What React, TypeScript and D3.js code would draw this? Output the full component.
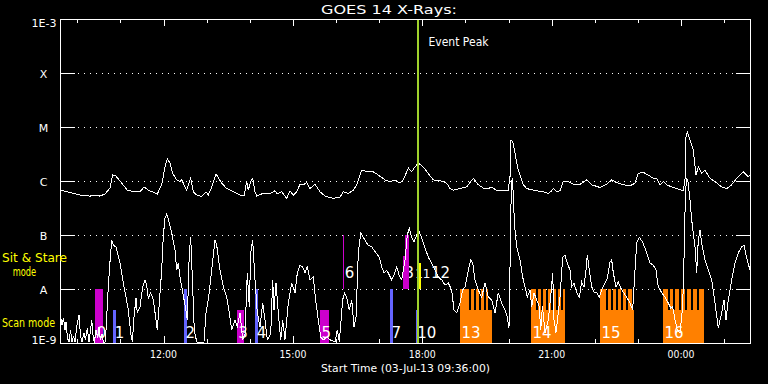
import React from "react";
import * as d3 from "d3";

// ---- data (time = hours since start 03-Jul-13 09:36, value = log10 flux W/m^2) ----
const TITLE = "GOES 14 X-Rays:";
const START_LABEL = "Start Time (03-Jul-13 09:36:00)";

const longT = [0.016,0.464,0.696,0.812,0.928,1.043,1.159,1.222,1.299,1.431,1.561,1.739,1.855,1.948,2.048,2.256,2.358,2.435,2.488,2.551,2.613,2.706,2.783,2.822,2.938,3.031,3.091,3.170,3.286,3.386,3.439,3.518,3.617,3.750,3.866,4.019,4.174,4.267,4.329,4.366,4.422,4.468,4.522,4.561,4.677,4.870,4.986,5.039,5.141,5.257,5.333,5.410,5.489,5.565,5.642,5.720,5.797,5.913,6.029,6.145,6.337,6.493,6.570,6.685,6.801,6.880,6.996,7.149,7.265,7.381,7.536,7.652,7.768,7.884,7.961,8.077,8.155,8.209,8.308,8.424,8.540,8.656,8.772,8.888,8.967,9.043,9.120,9.275,9.431,9.584,9.700,9.855,10.010,10.126,10.395,10.435,10.458,10.497,10.551,10.627,10.743,10.822,10.975,11.207,11.323,11.402,11.439,11.518,11.594,11.671,11.787,11.942,12.058,12.213,12.329,12.522,12.677,12.793,12.909,13.062,13.217,13.333,13.410,13.526,13.642,13.758,13.837,13.913,13.990,14.068,14.185,14.337,14.453,14.493,14.516,14.546,14.609,14.685,14.748,14.801,14.880,14.957,15.072,15.188,15.344,15.459,15.575,15.691,15.844,15.884,15.960,16.0];
const longL = [-6.17,-6.26,-6.28,-6.26,-6.28,-6.24,-6.13,-5.89,-5.91,-6.04,-6.17,-6.20,-6.20,-6.11,-6.17,-6.24,-6.07,-5.74,-5.59,-5.67,-5.86,-5.98,-6.01,-5.98,-6.17,-5.95,-6.20,-6.26,-6.29,-6.20,-6.26,-6.11,-5.87,-6.04,-6.14,-6.20,-6.26,-6.28,-6.01,-6.17,-6.01,-5.95,-6.20,-6.28,-6.24,-6.23,-6.18,-6.24,-6.20,-6.32,-6.18,-6.26,-6.20,-6.06,-6.07,-6.03,-6.14,-6.06,-6.20,-6.28,-6.32,-6.30,-6.20,-6.23,-6.17,-6.07,-5.80,-5.83,-5.83,-5.89,-5.98,-6.01,-5.98,-6.04,-5.98,-5.76,-5.83,-5.76,-5.67,-5.74,-5.86,-5.98,-5.99,-6.01,-6.04,-6.14,-6.17,-6.14,-6.11,-5.95,-6.07,-6.15,-6.12,-6.17,-6.17,-5.92,-5.24,-5.27,-5.49,-5.80,-6.07,-6.14,-6.17,-6.20,-6.23,-6.18,-6.14,-6.20,-6.18,-6.01,-6.01,-6.07,-6.06,-5.98,-6.07,-6.12,-6.06,-5.98,-6.03,-6.07,-6.09,-6.04,-5.86,-5.84,-5.89,-5.95,-5.95,-6.07,-6.01,-6.07,-6.11,-6.15,-6.18,-5.98,-5.18,-5.09,-5.24,-5.43,-5.89,-5.74,-5.86,-5.80,-5.95,-6.01,-6.11,-6.14,-6.07,-5.95,-5.83,-5.86,-5.92,-5.89];

const shortT = [0.016,0.046,0.081,0.116,0.139,0.174,0.209,0.243,0.278,0.313,0.348,0.394,0.441,0.475,0.510,0.557,0.591,0.633,0.672,0.707,0.735,0.765,0.795,0.835,0.870,0.904,0.939,0.974,1.009,1.043,1.067,1.120,1.159,1.199,1.236,1.299,1.345,1.391,1.468,1.530,1.584,1.639,1.677,1.716,1.762,1.792,1.855,1.918,1.971,2.010,2.048,2.103,2.163,2.226,2.256,2.303,2.358,2.395,2.435,2.474,2.511,2.551,2.590,2.667,2.706,2.743,2.783,2.845,2.906,2.952,2.998,3.031,3.077,3.114,3.170,3.246,3.339,3.386,3.439,3.518,3.594,3.634,3.710,3.787,3.866,3.926,3.981,4.058,4.111,4.174,4.236,4.290,4.343,4.390,4.422,4.468,4.522,4.575,4.638,4.700,4.754,4.807,4.886,4.932,4.962,5.009,5.062,5.118,5.164,5.217,5.294,5.373,5.449,5.503,5.565,5.628,5.681,5.734,5.797,5.874,5.936,5.990,6.045,6.105,6.198,6.261,6.377,6.430,6.477,6.555,6.597,6.648,6.708,6.764,6.817,6.864,6.917,6.973,7.033,7.096,7.149,7.228,7.327,7.404,7.460,7.513,7.576,7.636,7.692,7.745,7.808,7.861,7.924,8.000,8.053,8.100,8.155,8.209,8.271,8.332,8.387,8.464,8.540,8.619,8.696,8.772,8.851,8.928,9.004,9.083,9.136,9.199,9.275,9.338,9.391,9.468,9.523,9.570,9.623,9.700,9.778,9.855,9.932,10.010,10.087,10.163,10.242,10.319,10.372,10.411,10.442,10.465,10.488,10.511,10.539,10.590,10.667,10.729,10.783,10.836,10.899,10.938,10.991,11.054,11.114,11.147,11.188,11.246,11.323,11.378,11.425,11.455,11.501,11.555,11.594,11.656,11.710,11.763,11.826,11.865,11.919,11.981,12.042,12.097,12.151,12.197,12.227,12.274,12.329,12.382,12.445,12.505,12.561,12.638,12.691,12.754,12.793,12.830,12.893,12.946,13.002,13.062,13.141,13.217,13.280,13.333,13.372,13.433,13.511,13.604,13.681,13.757,13.820,13.873,13.952,14.029,14.105,14.161,14.207,14.261,14.314,14.377,14.439,14.469,14.499,14.527,14.562,14.609,14.648,14.725,14.764,14.801,14.841,14.880,14.957,15.033,15.112,15.188,15.265,15.344,15.397,15.443,15.497,15.575,15.652,15.729,15.807,15.861,15.923,16.000];
const shortL = [-8.52,-8.67,-8.54,-8.76,-8.61,-8.91,-8.98,-8.76,-8.98,-8.87,-8.98,-8.67,-8.48,-8.87,-8.98,-8.81,-8.94,-8.72,-8.98,-8.76,-8.57,-8.85,-9.00,-8.76,-8.91,-8.70,-8.94,-8.83,-9.00,-9.00,-8.76,-7.96,-7.50,-7.09,-7.19,-7.22,-7.37,-7.52,-7.89,-8.15,-8.39,-8.81,-8.98,-8.52,-8.17,-8.44,-8.33,-7.96,-7.83,-7.93,-8.17,-8.07,-8.20,-8.57,-8.76,-8.26,-7.65,-7.02,-6.69,-6.61,-6.70,-6.83,-6.96,-7.28,-7.65,-7.52,-7.78,-8.06,-8.33,-8.57,-7.33,-7.04,-7.96,-8.76,-8.98,-9.00,-8.98,-8.44,-8.20,-7.65,-7.09,-7.19,-7.65,-7.96,-8.15,-8.44,-8.76,-8.57,-8.70,-8.44,-8.94,-8.83,-7.70,-8.33,-7.33,-7.09,-7.83,-8.44,-8.70,-8.26,-8.57,-8.94,-8.83,-7.83,-8.39,-7.89,-8.44,-8.94,-8.57,-8.94,-8.26,-7.89,-8.07,-7.70,-7.56,-7.59,-7.70,-7.59,-7.83,-7.78,-8.26,-8.57,-8.89,-8.94,-8.89,-8.94,-8.98,-8.76,-8.98,-8.20,-8.07,-8.15,-8.39,-8.20,-8.70,-8.52,-7.33,-6.96,-7.04,-7.13,-7.19,-7.22,-7.33,-7.41,-7.59,-7.70,-7.65,-7.74,-7.83,-7.74,-7.59,-7.74,-7.83,-7.46,-7.00,-6.87,-7.04,-7.13,-7.00,-6.94,-7.06,-7.24,-7.41,-7.52,-7.65,-7.78,-7.83,-7.93,-7.89,-8.02,-8.39,-8.44,-8.26,-8.02,-7.96,-7.65,-7.46,-7.52,-7.83,-8.02,-8.15,-7.89,-8.15,-8.20,-8.44,-8.07,-8.26,-8.39,-8.52,-8.72,-7.28,-6.07,-5.94,-6.26,-6.81,-7.22,-7.46,-7.78,-7.96,-8.15,-8.02,-8.33,-8.07,-8.20,-8.33,-8.76,-8.31,-8.81,-8.57,-8.15,-7.70,-8.57,-8.81,-8.44,-8.15,-7.41,-7.37,-7.52,-7.65,-7.96,-7.89,-8.07,-8.15,-7.87,-7.96,-7.65,-7.37,-7.65,-7.96,-8.06,-8.07,-8.15,-8.02,-7.89,-7.80,-7.50,-7.46,-7.70,-7.96,-7.87,-7.98,-8.06,-8.15,-8.26,-8.39,-7.65,-7.15,-7.04,-7.13,-7.33,-7.52,-7.56,-7.65,-7.96,-8.07,-8.15,-8.26,-8.35,-8.33,-8.57,-8.76,-8.81,-8.33,-7.46,-6.35,-5.94,-6.02,-6.35,-6.72,-7.22,-7.70,-7.09,-6.91,-7.15,-7.46,-7.65,-7.83,-8.26,-8.72,-8.44,-8.20,-8.57,-8.20,-7.83,-7.52,-7.33,-7.22,-7.19,-7.43,-7.65];

// axis levels
const yLevels = [-9, -8, -7, -6, -5, -4, -3];
const yLabels = ["1E-9", "A", "B", "C", "M", "X", "1E-3"];
const majorHours = [2.4, 5.4, 8.4, 11.4, 14.4];
const majorLabels = ["12:00", "15:00", "18:00", "21:00", "00:00"];
const minorHours = [0.4, 1.4, 3.4, 4.4, 6.4, 7.4, 9.4, 10.4, 12.4, 13.4, 15.4];

// observations
const obsLabel = ["0","1","2","3","4","5","6","7","8","","10","11","12","13","14","15","16"];
const obsStart = [0.819,1.236,2.876,4.097,4.530,6.029,6.570,7.652,7.946,8.006,8.248,8.318,8.545,9.275,10.922,12.522,13.982];
const obsEnd   = [0.990,1.292,2.938,4.267,4.580,6.230,6.593,7.714,8.006,8.092,8.278,8.364,8.545,10.010,11.710,13.310,14.926];
const obsTop   = [-8,-8.39,-8,-8.39,-8,-8.39,-7,-8,-7.39,-7,-8.39,-7.52,-7.5,-8.39,-8.39,-8.39,-8.39];
const obsBase  = [-9,-9,-9,-9,-9,-9,-8,-9,-8,-8,-9,-8,-8,-9,-9,-9,-9];
const obsColor = ["#cc00cc","#6464ff","#6464ff","#cc00cc","#6464ff","#cc00cc","#cc00cc","#6464ff","#cc00cc","#cc00cc","#6464ff","#ffff00","#ffff00","#ff8000","#ff8000","#ff8000","#ff8000"];
// sit & stare exposures inside the orange scan blocks
const rasterStart = [9.275,9.523,9.639,9.762,9.878, 10.922,11.077,11.193,11.309,11.425,11.541,11.656, 12.522,12.700,12.816,12.932,13.048,13.164, 13.982,14.138,14.268,14.400,14.539,14.671,14.810];
const rasterEnd   = [9.484,9.600,9.723,9.839,9.932, 11.038,11.154,11.270,11.386,11.501,11.617,11.710, 12.661,12.777,12.893,13.009,13.124,13.257, 14.091,14.221,14.353,14.493,14.625,14.764,14.926];
const eventPeak = 8.294;

const FONT = "DejaVu Sans, sans-serif";

export default function App() {
  const x = d3.scaleLinear().domain([0, 16]).range([60, 750]);
  const y = d3.scaleLog().domain([1e-9, 1e-3]).range([343, 19]);
  const fy = (v: number) => y(Math.pow(10, Math.max(v, -9)));
  const line = d3.line<[number, number]>().x((d) => x(d[0])).y((d) => fy(d[1]));
  const longPts: [number, number][] = d3.range(Math.min(longT.length, longL.length)).map((i) => [longT[i], longL[i]]);
  const shortPts: [number, number][] = d3.range(Math.min(shortT.length, shortL.length)).map((i) => [shortT[i], shortL[i]]);

  const lower = obsLabel.map((_, i) => i).filter((i) => obsBase[i] === -9);
  const upper = obsLabel.map((_, i) => i).filter((i) => obsBase[i] !== -9);

  // label placement for the crowded sit & stare labels near the event
  const upperLabelX = (i: number) => {
    if (obsLabel[i] === "11") return x(obsStart[i]) - 3.5;
    if (obsLabel[i] === "12") return x(obsStart[i]) + 2.5;
    return x(obsStart[i]) + 1.5;
  };

  return (
    <svg width={768} height={384} style={{ position: "fixed", left: 0, top: 0, background: "#000" }}>
      <rect x={0} y={0} width={768} height={384} fill="#000" />
      <defs>
        <clipPath id="plot"><rect x={60} y={19} width={690} height={324} /></clipPath>
      </defs>
      {/* dotted grid */}
      {yLevels.slice(1, -1).map((v) => (
        <line key={"g" + v} x1={60} x2={750} y1={fy(v) + 0.5} y2={fy(v) + 0.5} stroke="#fff" strokeDasharray="1 5" shapeRendering="crispEdges" />
      ))}
      {/* decade ticks */}
      {yLevels.slice(1, -1).map((v) => (
        <g key={"t" + v} shapeRendering="crispEdges">
          <line x1={60} x2={75} y1={fy(v) + 0.5} y2={fy(v) + 0.5} stroke="#fff" />
          <line x1={736} x2={750} y1={fy(v) + 0.5} y2={fy(v) + 0.5} stroke="#fff" />
        </g>
      ))}
      {/* hour ticks */}
      {majorHours.map((h) => (
        <g key={"M" + h} shapeRendering="crispEdges">
          <line x1={Math.round(x(h)) + 0.5} x2={Math.round(x(h)) + 0.5} y1={19} y2={26} stroke="#fff" />
          <line x1={Math.round(x(h)) + 0.5} x2={Math.round(x(h)) + 0.5} y1={336} y2={343} stroke="#fff" />
        </g>
      ))}
      {minorHours.map((h) => (
        <g key={"m" + h} shapeRendering="crispEdges">
          <line x1={Math.round(x(h)) + 0.5} x2={Math.round(x(h)) + 0.5} y1={19} y2={23} stroke="#fff" />
          <line x1={Math.round(x(h)) + 0.5} x2={Math.round(x(h)) + 0.5} y1={339} y2={343} stroke="#fff" />
        </g>
      ))}
      {/* labels of sit & stare band (drawn under the bars) */}
      {upper.map((i) => (
        <text key={"ul" + i} x={upperLabelX(i)} y={fy(-8) - 11} fill="#fff" fontFamily={FONT}
          fontSize={obsLabel[i] === "11" ? 12 : 15}>{obsLabel[i]}</text>
      ))}
      {/* observation bars */}
      {obsLabel.map((_, i) => (
        <rect key={"b" + i} x={x(obsStart[i])} y={fy(obsTop[i])} width={Math.max(0, x(obsEnd[i]) - x(obsStart[i]))}
          height={fy(obsBase[i]) - fy(obsTop[i])} fill={obsColor[i]} shapeRendering="crispEdges" />
      ))}
      {rasterStart.map((s, i) => (
        <rect key={"r" + i} x={x(s)} y={fy(-8)} width={x(rasterEnd[i]) - x(s)} height={fy(-9) - fy(-8)} fill="#ff8000" shapeRendering="crispEdges" />
      ))}
      {lower.map((i) => (
        <text key={"ll" + i} x={x(obsStart[i]) + 1.5} y={fy(-9) - 5} fill="#fff" fontFamily={FONT} fontSize={15}>{obsLabel[i]}</text>
      ))}
      {/* curves */}
      <g clipPath="url(#plot)">
        <path d={line(longPts) || ""} fill="none" stroke="#fff" strokeWidth={1} shapeRendering="crispEdges" />
        <path d={line(shortPts) || ""} fill="none" stroke="#fff" strokeWidth={1} shapeRendering="crispEdges" />
      </g>
      {/* event peak */}
      <rect x={x(eventPeak) - 1} y={19} width={2} height={324} fill="#a0d22c" shapeRendering="crispEdges" />
      <text x={428.5} y={46} fill="#fff" fontFamily={FONT} fontSize={12} textLength={60} lengthAdjust="spacingAndGlyphs">Event Peak</text>
      {/* frame */}
      <rect x={60.5} y={19.5} width={689.5} height={323.5} fill="none" stroke="#fff" shapeRendering="crispEdges" />
      {/* title and labels */}
      <text x={321} y={14} fill="#fff" fontFamily={FONT} fontSize={12} textLength={136} lengthAdjust="spacingAndGlyphs">{TITLE}</text>
      {yLevels.map((v, i) => {
        const lab = yLabels[i];
        const isNum = lab.length > 1;
        const base = v === -3 ? 27 : v === -9 ? 344 : fy(v) + 4.5;
        return isNum ? (
          <text key={"yl" + v} x={31.5} y={base} fill="#fff" fontFamily={FONT} fontSize={11} textLength={25} lengthAdjust="spacingAndGlyphs">{lab}</text>
        ) : (
          <text key={"yl" + v} x={43.5} y={base} fill="#fff" fontFamily={FONT} fontSize={11} textAnchor="middle">{lab}</text>
        );
      })}
      {majorHours.map((h, i) => (
        <text key={"xl" + h} x={x(h)} y={358} fill="#fff" fontFamily={FONT} fontSize={11} textAnchor="middle" textLength={27} lengthAdjust="spacingAndGlyphs">{majorLabels[i]}</text>
      ))}
      <text x={321} y={372} fill="#fff" fontFamily={FONT} fontSize={11} textLength={169} lengthAdjust="spacingAndGlyphs">{START_LABEL}</text>
      <text x={2} y={262} fill="#ffff00" fontFamily={FONT} fontSize={12} textLength={65} lengthAdjust="spacingAndGlyphs">Sit &amp; Stare</text>
      <text x={12.7} y={275.5} fill="#ffff00" fontFamily={FONT} fontSize={12} textLength={23.5} lengthAdjust="spacingAndGlyphs">mode</text>
      <text x={2} y={327} fill="#ffff00" fontFamily={FONT} fontSize={12} textLength={53} lengthAdjust="spacingAndGlyphs">Scan mode</text>
    </svg>
  );
}
